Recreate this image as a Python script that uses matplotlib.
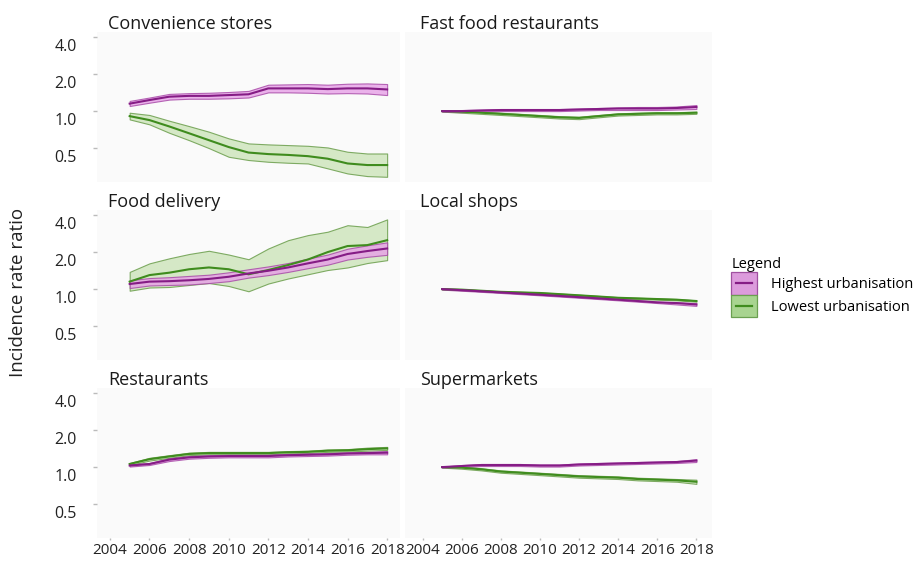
import numpy as np
import matplotlib.pyplot as plt
from matplotlib.patches import Rectangle
from matplotlib.lines import Line2D
from matplotlib.transforms import ScaledTranslation

plt.rcParams['font.family'] = ['Open Sans', 'DejaVu Sans']

years = [2005, 2006, 2007, 2008, 2009, 2010, 2011, 2012, 2013, 2014, 2015, 2016, 2017, 2018]
x_ticks = [2004, 2006, 2008, 2010, 2012, 2014, 2016, 2018]
y_ticks = [0.5, 1.0, 2.0, 4.0]
y_labels = ['0.5', '1.0', '2.0', '4.0']
titles = ['Convenience stores', 'Fast food restaurants', 'Food delivery',
          'Local shops', 'Restaurants', 'Supermarkets']
legend_labels = ['Highest urbanisation', 'Lowest urbanisation']

# convenience stores
conv_hi = [1.15, 1.23, 1.31, 1.33, 1.33, 1.35, 1.37, 1.53, 1.53, 1.53, 1.51, 1.53, 1.53, 1.50]
conv_hi_lo = [1.10, 1.17, 1.24, 1.26, 1.26, 1.27, 1.29, 1.42, 1.42, 1.41, 1.39, 1.40, 1.39, 1.35]
conv_hi_up = [1.21, 1.29, 1.38, 1.40, 1.41, 1.43, 1.46, 1.64, 1.65, 1.66, 1.64, 1.67, 1.68, 1.66]
conv_lo = [0.91, 0.845, 0.75, 0.66, 0.58, 0.51, 0.46, 0.447, 0.44, 0.43, 0.41, 0.375, 0.364, 0.364]
conv_lo_lo = [0.856, 0.78, 0.666, 0.58, 0.50, 0.425, 0.40, 0.387, 0.38, 0.375, 0.342, 0.311, 0.296, 0.292]
conv_lo_up = [0.97, 0.93, 0.835, 0.755, 0.68, 0.60, 0.546, 0.536, 0.529, 0.522, 0.506, 0.467, 0.452, 0.452]

# fast food
ff_hi = [1.0, 1.0, 1.01, 1.02, 1.02, 1.02, 1.02, 1.03, 1.04, 1.05, 1.05, 1.05, 1.06, 1.08]
ff_hi_lo = [0.99, 0.98, 0.99, 1.00, 1.00, 1.00, 1.00, 1.01, 1.02, 1.02, 1.02, 1.02, 1.03, 1.04]
ff_hi_up = [1.01, 1.02, 1.03, 1.04, 1.04, 1.04, 1.04, 1.05, 1.06, 1.07, 1.08, 1.08, 1.09, 1.12]
ff_lo = [1.0, 0.99, 0.97, 0.95, 0.93, 0.91, 0.89, 0.88, 0.91, 0.94, 0.95, 0.96, 0.96, 0.97]
ff_lo_lo = [0.99, 0.97, 0.95, 0.93, 0.91, 0.89, 0.87, 0.86, 0.89, 0.92, 0.93, 0.94, 0.94, 0.95]
ff_lo_up = [1.01, 1.01, 0.99, 0.97, 0.95, 0.93, 0.91, 0.90, 0.93, 0.96, 0.97, 0.98, 0.98, 0.99]

# food delivery
fd_hi = [1.10, 1.15, 1.16, 1.18, 1.21, 1.26, 1.34, 1.41, 1.50, 1.62, 1.74, 1.93, 2.04, 2.14]
fd_hi_lo = [1.02, 1.07, 1.08, 1.09, 1.12, 1.16, 1.24, 1.30, 1.38, 1.48, 1.58, 1.74, 1.83, 1.90]
fd_hi_up = [1.18, 1.23, 1.25, 1.28, 1.31, 1.37, 1.45, 1.53, 1.63, 1.77, 1.91, 2.13, 2.27, 2.40]
fd_lo = [1.15, 1.30, 1.36, 1.45, 1.50, 1.45, 1.32, 1.43, 1.57, 1.74, 2.00, 2.24, 2.28, 2.50]
fd_lo_lo = [0.97, 1.03, 1.04, 1.08, 1.12, 1.06, 0.96, 1.11, 1.22, 1.32, 1.43, 1.50, 1.63, 1.72]
fd_lo_up = [1.38, 1.62, 1.78, 1.93, 2.05, 1.91, 1.75, 2.14, 2.50, 2.75, 2.93, 3.31, 3.20, 3.69]

# local shops
ls_hi = [1.0, 0.98, 0.96, 0.94, 0.92, 0.90, 0.88, 0.86, 0.84, 0.82, 0.80, 0.78, 0.77, 0.75]
ls_hi_lo = [0.99, 0.97, 0.95, 0.93, 0.91, 0.89, 0.87, 0.85, 0.83, 0.81, 0.79, 0.77, 0.75, 0.73]
ls_hi_up = [1.01, 0.99, 0.97, 0.95, 0.93, 0.91, 0.89, 0.87, 0.85, 0.83, 0.81, 0.79, 0.78, 0.77]
ls_lo = [1.0, 0.99, 0.97, 0.95, 0.94, 0.93, 0.91, 0.89, 0.87, 0.85, 0.84, 0.83, 0.82, 0.80]
ls_lo_lo = [0.99, 0.98, 0.96, 0.94, 0.93, 0.92, 0.90, 0.88, 0.86, 0.84, 0.83, 0.82, 0.81, 0.79]
ls_lo_up = [1.01, 1.00, 0.98, 0.96, 0.95, 0.94, 0.92, 0.90, 0.88, 0.86, 0.85, 0.84, 0.83, 0.81]

# restaurants
rs_hi = [1.03, 1.06, 1.15, 1.20, 1.22, 1.23, 1.23, 1.23, 1.25, 1.26, 1.27, 1.29, 1.30, 1.31]
rs_hi_lo = [1.01, 1.04, 1.12, 1.17, 1.19, 1.20, 1.20, 1.20, 1.22, 1.23, 1.24, 1.26, 1.27, 1.27]
rs_hi_up = [1.05, 1.08, 1.18, 1.23, 1.25, 1.26, 1.26, 1.26, 1.28, 1.29, 1.30, 1.32, 1.33, 1.35]
rs_lo = [1.06, 1.16, 1.22, 1.28, 1.30, 1.30, 1.30, 1.30, 1.32, 1.33, 1.36, 1.37, 1.40, 1.42]
rs_lo_lo = [1.04, 1.13, 1.19, 1.25, 1.27, 1.27, 1.27, 1.27, 1.29, 1.30, 1.33, 1.34, 1.36, 1.38]
rs_lo_up = [1.08, 1.19, 1.25, 1.31, 1.33, 1.33, 1.33, 1.33, 1.35, 1.36, 1.39, 1.40, 1.44, 1.46]

# supermarkets
sm_hi = [1.0, 1.02, 1.04, 1.04, 1.04, 1.03, 1.03, 1.05, 1.06, 1.07, 1.08, 1.09, 1.10, 1.13]
sm_hi_lo = [0.99, 1.00, 1.02, 1.02, 1.02, 1.01, 1.01, 1.03, 1.04, 1.05, 1.06, 1.07, 1.08, 1.10]
sm_hi_up = [1.01, 1.04, 1.06, 1.06, 1.06, 1.05, 1.05, 1.07, 1.08, 1.09, 1.10, 1.11, 1.12, 1.16]
sm_lo = [1.0, 0.99, 0.96, 0.92, 0.90, 0.88, 0.86, 0.84, 0.83, 0.82, 0.80, 0.79, 0.78, 0.76]
sm_lo_lo = [0.99, 0.97, 0.94, 0.90, 0.88, 0.86, 0.84, 0.82, 0.81, 0.80, 0.78, 0.77, 0.76, 0.73]
sm_lo_up = [1.01, 1.01, 0.98, 0.94, 0.92, 0.90, 0.88, 0.86, 0.85, 0.84, 0.82, 0.81, 0.80, 0.79]

panels = [
    (conv_hi, conv_hi_lo, conv_hi_up, conv_lo, conv_lo_lo, conv_lo_up),
    (ff_hi, ff_hi_lo, ff_hi_up, ff_lo, ff_lo_lo, ff_lo_up),
    (fd_hi, fd_hi_lo, fd_hi_up, fd_lo, fd_lo_lo, fd_lo_up),
    (ls_hi, ls_hi_lo, ls_hi_up, ls_lo, ls_lo_lo, ls_lo_up),
    (rs_hi, rs_hi_lo, rs_hi_up, rs_lo, rs_lo_lo, rs_lo_up),
    (sm_hi, sm_hi_lo, sm_hi_up, sm_lo, sm_lo_lo, sm_lo_up),
]

# colours
hi_line, hi_fill, hi_edge = '#851c85', '#e7a0e7', '#a545a5'
lo_line, lo_fill, lo_edge = '#3f8c1e', '#cfe5bd', '#6b9e4c'


class BoxLine:
    # legend key: filled box with a short line across the middle
    def __init__(self, fc, ec, lc):
        self.fc, self.ec, self.lc = fc, ec, lc


class BoxLineHandler:
    def legend_artist(self, legend, h, fontsize, handlebox):
        x0, y0 = -handlebox.xdescent, -handlebox.ydescent
        w, ht = handlebox.width, handlebox.height
        tr = handlebox.get_transform()
        rect = Rectangle((x0, y0), w, ht, facecolor=h.fc, edgecolor=h.ec, lw=0.9, transform=tr)
        line = Line2D([x0 + w * 0.18, x0 + w * 0.82], [y0 + ht / 2] * 2, color=h.lc, lw=1.6, transform=tr)
        handlebox.add_artist(rect)
        handlebox.add_artist(line)
        return rect


W, H = 913, 565
fig = plt.figure(figsize=(W / 100, H / 100), dpi=100)

row_top = [32, 210, 388]
cols = [(97, 303, (2003.35, 2018.65)), (405, 307, (2003.1, 2018.8))]
label_shift = ScaledTranslation(0, -7.5 / 100, fig.dpi_scale_trans)

for i, (title, data) in enumerate(zip(titles, panels)):
    r, c = divmod(i, 2)
    x0, w, xl = cols[c]
    y0 = row_top[r]
    ax = fig.add_axes([x0 / W, 1 - (y0 + 150) / H, w / W, 150 / H])
    ax.set_facecolor('#fafafa')
    for s in ax.spines.values():
        s.set_visible(False)

    hi, hi_lo, hi_up, lo, lo_lo, lo_up = data
    ax.fill_between(years, lo_lo, lo_up, facecolor=lo_fill, edgecolor=lo_edge,
                    linewidth=0.8, alpha=0.85, zorder=2)
    ax.fill_between(years, hi_lo, hi_up, facecolor=hi_fill, edgecolor=hi_edge,
                    linewidth=0.8, alpha=0.8, zorder=3)
    ax.plot(years, lo, color=lo_line, lw=1.5, zorder=4)
    ax.plot(years, hi, color=hi_line, lw=1.5, zorder=5)

    ax.set_yscale('log')
    ax.set_ylim(0.265, 4.4)
    ax.set_xlim(*xl)
    ax.minorticks_off()

    if c == 0:
        ax.set_yticks(y_ticks)
        ax.set_yticklabels(y_labels)
        ax.tick_params(axis='y', length=3, width=1, color='#bbbbbb', pad=11.5,
                       labelsize=11.5, labelcolor='#222222')
        for lab in ax.get_yticklabels():
            lab.set_transform(lab.get_transform() + label_shift)
    else:
        ax.set_yticks([])

    if r == 2:
        ax.set_xticks(x_ticks)
        ax.set_xticklabels([str(t) for t in x_ticks])
        ax.tick_params(axis='x', length=1.5, width=1, color='#bbbbbb', pad=2,
                       labelsize=11, labelcolor='#222222')
    else:
        ax.set_xticks([])

    tx = 11 / w if c == 0 else 15 / w
    ax.text(tx, 1.02, title, transform=ax.transAxes, fontsize=13,
            va='baseline', ha='left', color='#1a1a1a')

fig.text(0.02, 0.483, 'Incidence rate ratio', rotation=90, fontsize=13.5,
         va='center', ha='center', color='#222222')

keys = [BoxLine('#dc9bdc', '#a050a0', hi_line), BoxLine('#a8d490', '#6aa050', lo_line)]
fig.legend(keys, legend_labels, handler_map={BoxLine: BoxLineHandler()},
           title='Legend', loc='upper left', bbox_to_anchor=(0.801, 0.545),
           frameon=False, fontsize=10.5, title_fontsize=10.5, alignment='left',
           handlelength=1.75, handleheight=2.0, handletextpad=1.0,
           labelspacing=0.0, borderpad=0, borderaxespad=0)

fig.savefig('out.png', dpi=100)
